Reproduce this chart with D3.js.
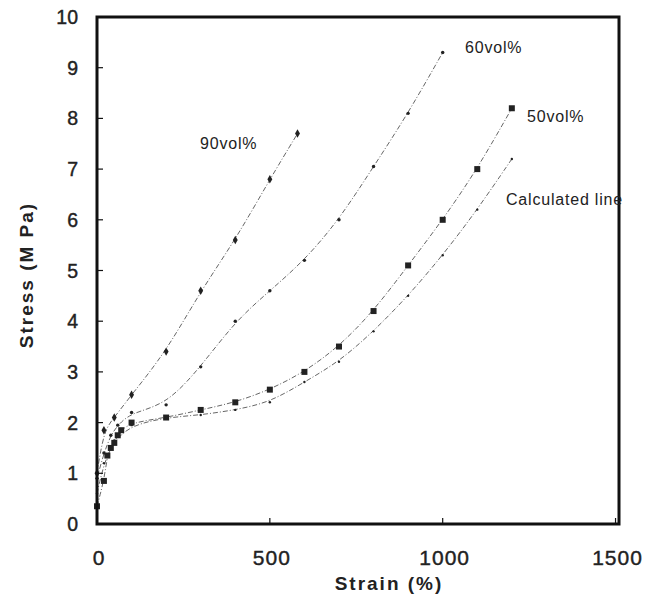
<!DOCTYPE html>
<html>
<head>
<meta charset="utf-8">
<script src="https://cdn.jsdelivr.net/npm/d3@7"></script>
<style>
  body { margin: 0; background: #fff; }
  text { font-family: "Liberation Sans", Arial, sans-serif; fill: #222; }
</style>
</head>
<body>
<div id="chart"></div>
<script>
// strain (%) and stress (MPa)
let strain90 = [0, 20, 50, 100, 200, 300, 400, 500, 580];
let stress90 = [1.0, 1.85, 2.1, 2.55, 3.4, 4.6, 5.6, 6.8, 7.7];

let strain60 = [0, 20, 40, 60, 100, 200, 300, 400, 500, 600, 700, 800, 900, 1000];
let stress60 = [0.9, 1.4, 1.75, 1.95, 2.2, 2.35, 3.1, 4.0, 4.6, 5.2, 6.0, 7.05, 8.1, 9.3];

let strain50 = [0, 20, 30, 40, 50, 60, 70, 100, 200, 300, 400, 500, 600, 700, 800, 900, 1000, 1100, 1200];
let stress50 = [0.35, 0.85, 1.35, 1.5, 1.6, 1.75, 1.85, 2.0, 2.1, 2.25, 2.4, 2.65, 3.0, 3.5, 4.2, 5.1, 6.0, 7.0, 8.2];

let strainCalc = [0, 20, 50, 100, 200, 300, 400, 500, 600, 700, 800, 900, 1000, 1100, 1200];
let stressCalc = [0.6, 1.2, 1.65, 1.95, 2.1, 2.15, 2.25, 2.4, 2.8, 3.2, 3.8, 4.5, 5.3, 6.2, 7.2];

let xTicks = [0, 500, 1000, 1500];
let yTicks = [0, 1, 2, 3, 4, 5, 6, 7, 8, 9, 10];

let width = 647, height = 599;
let margin = { top: 17, right: 28, bottom: 75, left: 97 };

let svg = d3.select("#chart")
    .append("svg")
    .attr("width", width)
    .attr("height", height);

let x = d3.scaleLinear()
    .domain([0, 1510])
    .range([margin.left, width - margin.right]);

let y = d3.scaleLinear()
    .domain([0, 10])
    .range([height - margin.bottom, margin.top]);

function pairs(xs, ys) {
    return xs.map(function (d, i) { return [d, ys[i]]; });
}

let series = [
    { name: "90vol%", pts: pairs(strain90, stress90), mark: "diamond", size: 4 },
    { name: "60vol%", pts: pairs(strain60, stress60), mark: "dot", size: 1.7 },
    { name: "50vol%", pts: pairs(strain50, stress50), mark: "square", size: 6 },
    { name: "Calculated line", pts: pairs(strainCalc, stressCalc), mark: "dot", size: 1.2 }
];

let line = d3.line()
    .x(function (d) { return x(d[0]); })
    .y(function (d) { return y(d[1]); })
    .curve(d3.curveBasis);

// fitted curves
svg.selectAll(".curve")
    .data(series)
    .enter()
    .append("path")
    .attr("class", "curve")
    .attr("d", function (d) { return line(d.pts); })
    .attr("fill", "none")
    .attr("stroke", "#555")
    .attr("stroke-width", 0.9)
    .attr("stroke-dasharray", "5,2,1,2");

// markers
series.forEach(function (s) {
    let g = svg.append("g");
    if (s.mark === "square") {
        g.selectAll("rect")
            .data(s.pts)
            .enter()
            .append("rect")
            .attr("x", function (d) { return x(d[0]) - s.size / 2; })
            .attr("y", function (d) { return y(d[1]) - s.size / 2; })
            .attr("width", s.size)
            .attr("height", s.size)
            .attr("fill", "#222");
    } else if (s.mark === "diamond") {
        g.selectAll("path")
            .data(s.pts)
            .enter()
            .append("path")
            .attr("transform", function (d) { return "translate(" + x(d[0]) + "," + y(d[1]) + ")"; })
            .attr("d", d3.symbol().type(d3.symbolDiamond).size(s.size * s.size * 1.3))
            .attr("fill", "#222");
    } else {
        g.selectAll("circle")
            .data(s.pts)
            .enter()
            .append("circle")
            .attr("cx", function (d) { return x(d[0]); })
            .attr("cy", function (d) { return y(d[1]); })
            .attr("r", s.size)
            .attr("fill", "#222");
    }
});

// frame
let x0 = x.range()[0], x1 = x.range()[1], y0 = y.range()[0], y1 = y.range()[1];
svg.append("rect")
    .attr("x", x0)
    .attr("y", y1)
    .attr("width", x1 - x0)
    .attr("height", y0 - y1)
    .attr("fill", "none")
    .attr("stroke", "#111")
    .attr("stroke-width", 3);

// inward ticks
svg.selectAll(".ytick")
    .data(yTicks)
    .enter()
    .append("line")
    .attr("x1", x0)
    .attr("x2", x0 + 6)
    .attr("y1", function (d) { return y(d); })
    .attr("y2", function (d) { return y(d); })
    .attr("stroke", "#111")
    .attr("stroke-width", 1.2);

svg.selectAll(".xtick")
    .data(xTicks)
    .enter()
    .append("line")
    .attr("x1", function (d) { return x(d); })
    .attr("x2", function (d) { return x(d); })
    .attr("y1", y0)
    .attr("y2", y0 - 6)
    .attr("stroke", "#111")
    .attr("stroke-width", 1.2);

svg.selectAll(".ylab")
    .data(yTicks)
    .enter()
    .append("text")
    .attr("x", x0 - 19)
    .attr("y", function (d) { return y(d) + 7; })
    .attr("text-anchor", "end")
    .attr("font-size", "19.5px")
    .attr("stroke", "#222")
    .attr("stroke-width", 0.4)
    .text(function (d) { return d; });

svg.selectAll(".xlab")
    .data(xTicks)
    .enter()
    .append("text")
    .attr("x", function (d) { return x(d) + 2; })
    .attr("y", y0 + 41)
    .attr("text-anchor", "middle")
    .attr("font-size", "21px")
    .attr("letter-spacing", "1px")
    .attr("stroke", "#222")
    .attr("stroke-width", 0.4)
    .text(function (d) { return d; });

// axis titles
svg.append("text")
    .attr("x", 389)
    .attr("y", 590)
    .attr("text-anchor", "middle")
    .attr("font-size", "19px")
    .attr("font-weight", "bold")
    .attr("letter-spacing", "2px")
    .text("Strain (%)");

svg.append("text")
    .attr("transform", "translate(33,275) rotate(-90)")
    .attr("text-anchor", "middle")
    .attr("font-size", "19px")
    .attr("font-weight", "bold")
    .attr("letter-spacing", "2px")
    .text("Stress (M Pa)");

// series labels
let labels = [
    { text: "90vol%", x: 200, y: 149 },
    { text: "60vol%", x: 465, y: 53 },
    { text: "50vol%", x: 527, y: 122 },
    { text: "Calculated line", x: 506, y: 205 }
];
svg.selectAll(".slab")
    .data(labels)
    .enter()
    .append("text")
    .attr("x", function (d) { return d.x; })
    .attr("y", function (d) { return d.y; })
    .attr("font-size", "16px")
    .attr("letter-spacing", "0.8px")
    .text(function (d) { return d.text; });
</script>
</body>
</html>
